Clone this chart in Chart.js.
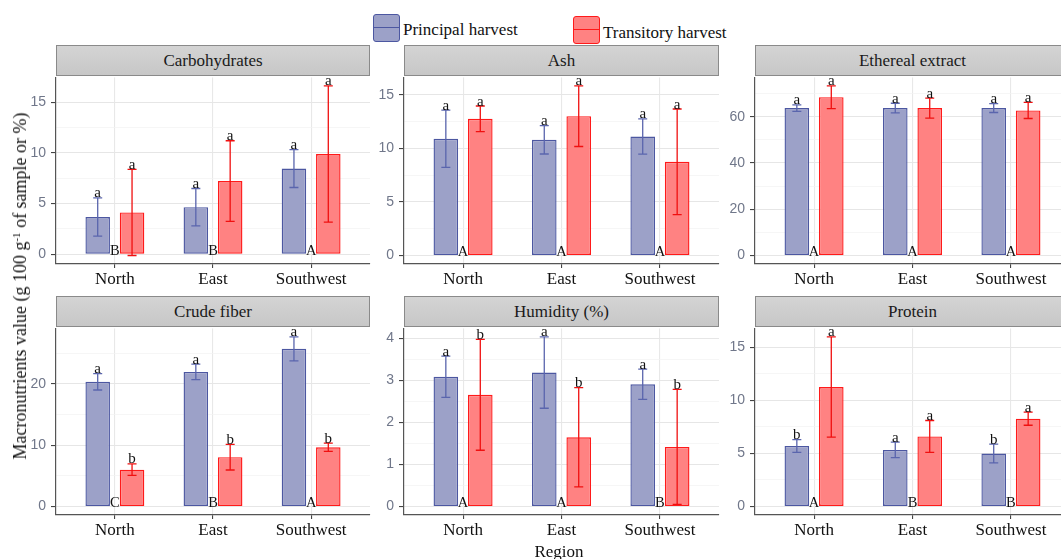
<!DOCTYPE html>
<html><head><meta charset="utf-8">
<script src="https://cdn.jsdelivr.net/npm/chart.js@4.4.1/dist/chart.umd.min.js"></script>
<style>
html,body{margin:0;padding:0;background:#fff;overflow:hidden;width:1061px;height:559px;position:relative;}
.strip{position:absolute;height:31px;background:linear-gradient(#d4d4d4,#c7c7c7);border:1px solid #8a8a8a;box-sizing:border-box;font:17px "Liberation Serif",serif;color:#1a1a1a;display:flex;align-items:center;justify-content:center;}
.cv{position:absolute;}
.key{position:absolute;width:27px;height:28px;box-sizing:border-box;border:1.5px solid;border-radius:3px;}
.key i{position:absolute;left:0;right:0;top:12px;height:1.3px;display:block;}
.txt{position:absolute;font:17px "Liberation Serif",serif;color:#111;white-space:nowrap;line-height:17px;}
</style></head>
<body>
<script>
// ---------- data ----------
const regions = ['North', 'East', 'Southwest'];
const seriesNames = ['Principal harvest', 'Transitory harvest'];

const carbPrincipal = [3.68, 4.65, 8.46];
const carbPrincipalSd = [1.88, 1.84, 1.87];
const carbTransitory = [4.13, 7.22, 9.89];
const carbTransitorySd = [4.25, 3.98, 6.72];
const carbPrincipalLetters = ['a', 'a', 'a'];
const carbTransitoryLetters = ['a', 'a', 'a'];
const carbRegionLetters = ['B', 'B', 'A'];
const carbTicks = [0, 5, 10, 15];

const ashPrincipal = [10.90, 10.80, 11.11];
const ashPrincipalSd = [2.67, 1.32, 1.65];
const ashTransitory = [12.76, 13.01, 8.75];
const ashTransitorySd = [1.20, 2.83, 4.93];
const ashPrincipalLetters = ['a', 'a', 'a'];
const ashTransitoryLetters = ['a', 'a', 'a'];
const ashRegionLetters = ['A', 'A', 'A'];
const ashTicks = [0, 5, 10, 15];

const etherPrincipal = [63.7, 63.7, 63.7];
const etherPrincipalSd = [1.4, 2.1, 1.9];
const etherTransitory = [68.4, 63.7, 62.7];
const etherTransitorySd = [4.9, 4.3, 3.5];
const etherPrincipalLetters = ['a', 'a', 'a'];
const etherTransitoryLetters = ['a', 'a', 'a'];
const etherRegionLetters = ['A', 'A', 'A'];
const etherTicks = [0, 20, 40, 60];

const fiberPrincipal = [20.32, 21.93, 25.68];
const fiberPrincipalSd = [1.34, 1.26, 1.95];
const fiberTransitory = [6.00, 8.04, 9.65];
const fiberTransitorySd = [0.94, 2.09, 0.67];
const fiberPrincipalLetters = ['a', 'a', 'a'];
const fiberTransitoryLetters = ['b', 'b', 'b'];
const fiberRegionLetters = ['C', 'B', 'A'];
const fiberTicks = [0, 10, 20];

const humPrincipal = [3.09, 3.19, 2.91];
const humPrincipalSd = [0.49, 0.85, 0.36];
const humTransitory = [2.66, 1.65, 1.42];
const humTransitorySd = [1.32, 1.18, 1.37];
const humPrincipalLetters = ['a', 'a', 'a'];
const humTransitoryLetters = ['b', 'b', 'b'];
const humRegionLetters = ['A', 'A', 'B'];
const humTicks = [0, 1, 2, 3, 4];

const protPrincipal = [5.70, 5.33, 4.99];
const protPrincipalSd = [0.60, 0.73, 0.88];
const protTransitory = [11.25, 6.60, 8.27];
const protTransitorySd = [4.72, 1.50, 0.62];
const protPrincipalLetters = ['b', 'a', 'b'];
const protTransitoryLetters = ['a', 'a', 'a'];
const protRegionLetters = ['A', 'B', 'B'];
const protTicks = [0, 5, 10, 15];

const panelTitles = ['Carbohydrates', 'Ash', 'Ethereal extract', 'Crude fiber', 'Humidity (%)', 'Protein'];

// ---------- layout / style ----------
const layout = [
  {L: 56, T: 76, W: 314}, {L: 404, T: 76, W: 315}, {L: 755, T: 76, W: 315},
  {L: 56, T: 327, W: 314}, {L: 404, T: 327, W: 315}, {L: 755, T: 327, W: 315}
];
const PH = 188, YW = 50, PADT = 12, PADR = 40, XH = 30;
const blueFill = '#9ca1c8', blueLine = '#4c57a1', blueErr = '#5a65ad';
const redFill = '#ff8282', redLine = '#ff1a1a', redErr = '#f01010';

const panelData = [
  [carbPrincipal, carbPrincipalSd, carbTransitory, carbTransitorySd, carbPrincipalLetters, carbTransitoryLetters, carbRegionLetters, carbTicks],
  [ashPrincipal, ashPrincipalSd, ashTransitory, ashTransitorySd, ashPrincipalLetters, ashTransitoryLetters, ashRegionLetters, ashTicks],
  [etherPrincipal, etherPrincipalSd, etherTransitory, etherTransitorySd, etherPrincipalLetters, etherTransitoryLetters, etherRegionLetters, etherTicks],
  [fiberPrincipal, fiberPrincipalSd, fiberTransitory, fiberTransitorySd, fiberPrincipalLetters, fiberTransitoryLetters, fiberRegionLetters, fiberTicks],
  [humPrincipal, humPrincipalSd, humTransitory, humTransitorySd, humPrincipalLetters, humTransitoryLetters, humRegionLetters, humTicks],
  [protPrincipal, protPrincipalSd, protTransitory, protTransitorySd, protPrincipalLetters, protTransitoryLetters, protRegionLetters, protTicks]
];

function addDiv(cls, style, html) {
  const d = document.createElement('div');
  d.className = cls;
  Object.assign(d.style, style);
  d.innerHTML = html;
  document.body.appendChild(d);
  return d;
}

function makePlugin(regionLetters) {
  return {
    id: 'errAnnot',
    afterDatasetsDraw(chart) {
      const ctx = chart.ctx, ys = chart.scales.y, xs = chart.scales.x;
      ctx.save();
      chart.data.datasets.forEach((ds, di) => {
        const meta = chart.getDatasetMeta(di);
        meta.data.forEach((bar, j) => {
          const m = ds.data[j].y, sd = ds.sd[j];
          const top = ys.getPixelForValue(m + sd), bot = ys.getPixelForValue(m - sd);
          const x = bar.x;
          ctx.strokeStyle = ds.errColor;
          ctx.lineWidth = 1.3;
          ctx.beginPath();
          ctx.moveTo(x, top); ctx.lineTo(x, bot);
          ctx.moveTo(x - 4.5, top); ctx.lineTo(x + 4.5, top);
          ctx.moveTo(x - 4.5, bot); ctx.lineTo(x + 4.5, bot);
          ctx.stroke();
          ctx.fillStyle = '#111';
          ctx.font = '15px "Liberation Serif", serif';
          ctx.textAlign = 'center';
          ctx.textBaseline = 'alphabetic';
          ctx.fillText(ds.letters[j], x, top - 0.5);
        });
      });
      regionLetters.forEach((l, j) => {
        ctx.fillStyle = '#111';
        ctx.font = '14.5px "Liberation Serif", serif';
        ctx.textAlign = 'center';
        ctx.textBaseline = 'alphabetic';
        ctx.fillText(l, xs.getPixelForValue(j), ys.getPixelForValue(0) + 0.5);
      });
      ctx.restore();
    }
  };
}

panelData.forEach((pd, k) => {
  const [pm, psd, tm, tsd, pl, tl, rl, majors] = pd;
  const pos = layout[k];
  addDiv('strip', {left: pos.L + 'px', top: (pos.T - 31) + 'px', width: pos.W + 'px'}, panelTitles[k]);
  // y range like ggplot (5% expansion of data incl. error bars and zero)
  const lows = pm.map((v, i) => v - psd[i]).concat(tm.map((v, i) => v - tsd[i]), [0]);
  const highs = pm.map((v, i) => v + psd[i]).concat(tm.map((v, i) => v + tsd[i]));
  const lo = Math.min(...lows), hi = Math.max(...highs), span = hi - lo;
  const ymin = lo - 0.05 * span, ymax = hi + 0.05 * span;
  const step = majors[1] - majors[0];
  const minors = [];
  for (let v = majors[0] - step / 2; v <= ymax; v += step) if (v >= ymin) minors.push(v);
  const majorSet = new Set(majors);
  const allTicks = majors.concat(minors).sort((a, b) => a - b);

  const cv = document.createElement('canvas');
  cv.className = 'cv';
  const cw = YW + pos.W + PADR, ch = PADT + PH + XH;
  cv.width = cw; cv.height = ch;
  cv.style.left = (pos.L - YW) + 'px';
  cv.style.top = (pos.T - PADT) + 'px';
  cv.style.width = cw + 'px'; cv.style.height = ch + 'px';
  document.body.appendChild(cv);

  new Chart(cv, {
    type: 'bar',
    data: {
      datasets: [
        {label: seriesNames[0], data: pm.map((v, i) => ({x: i, y: v})), sd: psd, letters: pl,
         backgroundColor: blueFill, borderColor: blueLine, borderWidth: 1.4, borderSkipped: false, errColor: blueErr},
        {label: seriesNames[1], data: tm.map((v, i) => ({x: i, y: v})), sd: tsd, letters: tl,
         backgroundColor: redFill, borderColor: redLine, borderWidth: 1.4, borderSkipped: false, errColor: redErr}
      ]
    },
    options: {
      responsive: false, animation: false, devicePixelRatio: 1,
      categoryPercentage: 0.7, barPercentage: 0.714,
      layout: {padding: {top: PADT, right: PADR, left: 0, bottom: 0}},
      plugins: {legend: {display: false}, tooltip: {enabled: false}},
      scales: {
        x: {
          type: 'linear', min: -0.6, max: 2.6, offset: false,
          afterBuildTicks: s => { s.ticks = regions.map((_, i) => ({value: i})); },
          afterFit: s => { s.height = XH; },
          grid: {offset: false, color: '#e8e8e8', lineWidth: 1.1, tickColor: '#444', tickLength: 4},
          border: {display: true, color: '#555', width: 1.2},
          ticks: {autoSkip: false, maxRotation: 0, padding: 1, color: '#111',
                  font: {family: '"Liberation Serif", serif', size: 17},
                  callback: v => regions[Math.round(v)]}
        },
        y: {
          type: 'linear', min: ymin, max: ymax,
          afterBuildTicks: s => { s.ticks = allTicks.map(v => ({value: v})); },
          afterFit: s => { s.width = YW; },
          grid: {
            color: c => majorSet.has(c.tick && c.tick.value) ? '#e6e6e6' : '#f2f2f2',
            lineWidth: c => majorSet.has(c.tick && c.tick.value) ? 1.1 : 0.7,
            tickColor: c => majorSet.has(c.tick && c.tick.value) ? '#444' : 'rgba(0,0,0,0)',
            tickLength: 5
          },
          border: {display: true, color: '#555', width: 1.2},
          ticks: {autoSkip: false, padding: 5, color: '#70778a',
                  font: {family: '"Liberation Sans", sans-serif', size: 14},
                  callback: v => majorSet.has(v) ? String(v) : ''}
        }
      }
    },
    plugins: [makePlugin(rl)]
  });
});

// legend
addDiv('key', {left: '373px', top: '14px', background: blueFill, borderColor: blueLine}, '<i style="background:' + blueLine + '"></i>');
addDiv('txt', {left: '403px', top: '21px'}, seriesNames[0]);
addDiv('key', {left: '573px', top: '16px', background: redFill, borderColor: redLine}, '<i style="background:' + redLine + '"></i>');
addDiv('txt', {left: '603px', top: '24px'}, seriesNames[1]);

// axis titles
addDiv('txt', {left: '20px', top: '286px', transform: 'translate(-50%,-50%) rotate(-90deg)', fontSize: '18px', lineHeight: '18px'},
  'Macronutrients value (g 100 g<sup style="font-size:11px;vertical-align:6px;line-height:0">-1</sup> of sample or %)');
addDiv('txt', {left: '559px', top: '543px', transform: 'translateX(-50%)'}, 'Region');
</script>
</body></html>
